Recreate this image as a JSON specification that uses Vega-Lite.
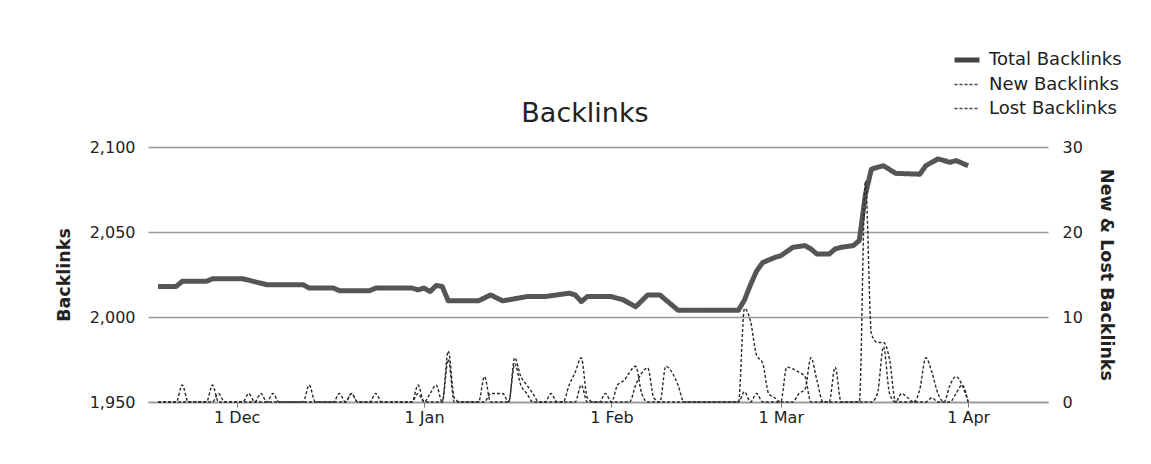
{
  "$schema": "https://vega.github.io/schema/vega-lite/v6.json",
  "width": 900,
  "height": 255,
  "autosize": {"type": "none"},
  "padding": {"left": 148, "top": 147, "right": 103, "bottom": 62},
  "background": "white",
  "config": {
    "view": {"stroke": null},
    "font": "DejaVu Sans",
    "axis": {"labelFont": "DejaVu Sans", "labelFontSize": 16, "labelColor": "#222", "titleFont": "DejaVu Sans", "titleFontSize": 17.5, "titleFontWeight": "bold", "titleColor": "#222"},
    "legend": {"orient": "none", "legendX": 804, "legendY": -102, "symbolType": "stroke", "symbolSize": 625, "labelFont": "DejaVu Sans", "labelFontSize": 18, "labelColor": "#222", "rowPadding": 1, "labelOffset": 7, "symbolStrokeColor": "#444"}
  },
  "title": {"text": "Backlinks", "fontSize": 27, "fontWeight": "normal", "color": "#222", "font": "DejaVu Sans", "offset": 18, "dx": -13, "dy": 101, "anchor": "middle", "frame": "group"},
  "data": {"values": [
    {"d": "2013/11/18", "s": "Total Backlinks", "v": 2018},
    {"d": "2013/11/21", "s": "Total Backlinks", "v": 2018},
    {"d": "2013/11/22", "s": "Total Backlinks", "v": 2021},
    {"d": "2013/11/26", "s": "Total Backlinks", "v": 2021},
    {"d": "2013/11/27", "s": "Total Backlinks", "v": 2022.5},
    {"d": "2013/12/02", "s": "Total Backlinks", "v": 2022.5},
    {"d": "2013/12/06", "s": "Total Backlinks", "v": 2019},
    {"d": "2013/12/12", "s": "Total Backlinks", "v": 2019},
    {"d": "2013/12/13", "s": "Total Backlinks", "v": 2017},
    {"d": "2013/12/17", "s": "Total Backlinks", "v": 2017},
    {"d": "2013/12/18", "s": "Total Backlinks", "v": 2015.5},
    {"d": "2013/12/23", "s": "Total Backlinks", "v": 2015.5},
    {"d": "2013/12/24", "s": "Total Backlinks", "v": 2017},
    {"d": "2013/12/30", "s": "Total Backlinks", "v": 2017},
    {"d": "2013/12/31", "s": "Total Backlinks", "v": 2016},
    {"d": "2014/01/01", "s": "Total Backlinks", "v": 2017},
    {"d": "2014/01/02", "s": "Total Backlinks", "v": 2015},
    {"d": "2014/01/03", "s": "Total Backlinks", "v": 2018.5},
    {"d": "2014/01/04", "s": "Total Backlinks", "v": 2018},
    {"d": "2014/01/05", "s": "Total Backlinks", "v": 2009.5},
    {"d": "2014/01/10", "s": "Total Backlinks", "v": 2009.5},
    {"d": "2014/01/12", "s": "Total Backlinks", "v": 2013},
    {"d": "2014/01/14", "s": "Total Backlinks", "v": 2009.5},
    {"d": "2014/01/18", "s": "Total Backlinks", "v": 2012},
    {"d": "2014/01/21", "s": "Total Backlinks", "v": 2012},
    {"d": "2014/01/25", "s": "Total Backlinks", "v": 2014},
    {"d": "2014/01/26", "s": "Total Backlinks", "v": 2013},
    {"d": "2014/01/27", "s": "Total Backlinks", "v": 2009},
    {"d": "2014/01/28", "s": "Total Backlinks", "v": 2012},
    {"d": "2014/02/01", "s": "Total Backlinks", "v": 2012},
    {"d": "2014/02/03", "s": "Total Backlinks", "v": 2010},
    {"d": "2014/02/05", "s": "Total Backlinks", "v": 2006},
    {"d": "2014/02/07", "s": "Total Backlinks", "v": 2013},
    {"d": "2014/02/09", "s": "Total Backlinks", "v": 2013},
    {"d": "2014/02/12", "s": "Total Backlinks", "v": 2004},
    {"d": "2014/02/22", "s": "Total Backlinks", "v": 2004},
    {"d": "2014/02/23", "s": "Total Backlinks", "v": 2010},
    {"d": "2014/02/24", "s": "Total Backlinks", "v": 2019},
    {"d": "2014/02/25", "s": "Total Backlinks", "v": 2027},
    {"d": "2014/02/26", "s": "Total Backlinks", "v": 2032},
    {"d": "2014/02/28", "s": "Total Backlinks", "v": 2035},
    {"d": "2014/03/01", "s": "Total Backlinks", "v": 2036},
    {"d": "2014/03/03", "s": "Total Backlinks", "v": 2041},
    {"d": "2014/03/05", "s": "Total Backlinks", "v": 2042},
    {"d": "2014/03/06", "s": "Total Backlinks", "v": 2040},
    {"d": "2014/03/07", "s": "Total Backlinks", "v": 2037},
    {"d": "2014/03/09", "s": "Total Backlinks", "v": 2037},
    {"d": "2014/03/10", "s": "Total Backlinks", "v": 2040},
    {"d": "2014/03/11", "s": "Total Backlinks", "v": 2041},
    {"d": "2014/03/13", "s": "Total Backlinks", "v": 2042},
    {"d": "2014/03/14", "s": "Total Backlinks", "v": 2045},
    {"d": "2014/03/15", "s": "Total Backlinks", "v": 2072},
    {"d": "2014/03/16", "s": "Total Backlinks", "v": 2087},
    {"d": "2014/03/18", "s": "Total Backlinks", "v": 2089},
    {"d": "2014/03/20", "s": "Total Backlinks", "v": 2084.5},
    {"d": "2014/03/24", "s": "Total Backlinks", "v": 2084},
    {"d": "2014/03/25", "s": "Total Backlinks", "v": 2089},
    {"d": "2014/03/27", "s": "Total Backlinks", "v": 2093},
    {"d": "2014/03/29", "s": "Total Backlinks", "v": 2091},
    {"d": "2014/03/30", "s": "Total Backlinks", "v": 2092},
    {"d": "2014/04/01", "s": "Total Backlinks", "v": 2089},

    {"d": "2013/11/18", "s": "New Backlinks", "v": 0},
    {"d": "2013/11/21", "s": "New Backlinks", "v": 0},
    {"d": "2013/11/22", "s": "New Backlinks", "v": 2},
    {"d": "2013/11/23", "s": "New Backlinks", "v": 0},
    {"d": "2013/11/26", "s": "New Backlinks", "v": 0},
    {"d": "2013/11/27", "s": "New Backlinks", "v": 2},
    {"d": "2013/11/28", "s": "New Backlinks", "v": 0},
    {"d": "2013/12/02", "s": "New Backlinks", "v": 0},
    {"d": "2013/12/03", "s": "New Backlinks", "v": 1},
    {"d": "2013/12/04", "s": "New Backlinks", "v": 0},
    {"d": "2013/12/05", "s": "New Backlinks", "v": 1},
    {"d": "2013/12/06", "s": "New Backlinks", "v": 0},
    {"d": "2013/12/07", "s": "New Backlinks", "v": 1},
    {"d": "2013/12/08", "s": "New Backlinks", "v": 0},
    {"d": "2013/12/12", "s": "New Backlinks", "v": 0},
    {"d": "2013/12/13", "s": "New Backlinks", "v": 2},
    {"d": "2013/12/14", "s": "New Backlinks", "v": 0},
    {"d": "2013/12/17", "s": "New Backlinks", "v": 0},
    {"d": "2013/12/18", "s": "New Backlinks", "v": 1},
    {"d": "2013/12/19", "s": "New Backlinks", "v": 0},
    {"d": "2013/12/20", "s": "New Backlinks", "v": 1},
    {"d": "2013/12/21", "s": "New Backlinks", "v": 0},
    {"d": "2013/12/23", "s": "New Backlinks", "v": 0},
    {"d": "2013/12/24", "s": "New Backlinks", "v": 1},
    {"d": "2013/12/25", "s": "New Backlinks", "v": 0},
    {"d": "2013/12/30", "s": "New Backlinks", "v": 0},
    {"d": "2013/12/31", "s": "New Backlinks", "v": 2},
    {"d": "2014/01/01", "s": "New Backlinks", "v": 0},
    {"d": "2014/01/02", "s": "New Backlinks", "v": 1},
    {"d": "2014/01/03", "s": "New Backlinks", "v": 2},
    {"d": "2014/01/04", "s": "New Backlinks", "v": 0},
    {"d": "2014/01/05", "s": "New Backlinks", "v": 6},
    {"d": "2014/01/06", "s": "New Backlinks", "v": 0.5},
    {"d": "2014/01/07", "s": "New Backlinks", "v": 0},
    {"d": "2014/01/10", "s": "New Backlinks", "v": 0},
    {"d": "2014/01/11", "s": "New Backlinks", "v": 3},
    {"d": "2014/01/12", "s": "New Backlinks", "v": 0},
    {"d": "2014/01/15", "s": "New Backlinks", "v": 0},
    {"d": "2014/01/16", "s": "New Backlinks", "v": 5.2},
    {"d": "2014/01/17", "s": "New Backlinks", "v": 3},
    {"d": "2014/01/18", "s": "New Backlinks", "v": 2},
    {"d": "2014/01/19", "s": "New Backlinks", "v": 1},
    {"d": "2014/01/20", "s": "New Backlinks", "v": 0},
    {"d": "2014/01/21", "s": "New Backlinks", "v": 0},
    {"d": "2014/01/22", "s": "New Backlinks", "v": 1},
    {"d": "2014/01/23", "s": "New Backlinks", "v": 0},
    {"d": "2014/01/24", "s": "New Backlinks", "v": 0},
    {"d": "2014/01/25", "s": "New Backlinks", "v": 2},
    {"d": "2014/01/26", "s": "New Backlinks", "v": 3.5},
    {"d": "2014/01/27", "s": "New Backlinks", "v": 5.2},
    {"d": "2014/01/28", "s": "New Backlinks", "v": 0.5},
    {"d": "2014/01/29", "s": "New Backlinks", "v": 0},
    {"d": "2014/01/30", "s": "New Backlinks", "v": 0},
    {"d": "2014/01/31", "s": "New Backlinks", "v": 1},
    {"d": "2014/02/01", "s": "New Backlinks", "v": 0},
    {"d": "2014/02/02", "s": "New Backlinks", "v": 2},
    {"d": "2014/02/03", "s": "New Backlinks", "v": 2.5},
    {"d": "2014/02/05", "s": "New Backlinks", "v": 4.2},
    {"d": "2014/02/06", "s": "New Backlinks", "v": 1},
    {"d": "2014/02/07", "s": "New Backlinks", "v": 0},
    {"d": "2014/02/09", "s": "New Backlinks", "v": 0},
    {"d": "2014/02/10", "s": "New Backlinks", "v": 4.2},
    {"d": "2014/02/11", "s": "New Backlinks", "v": 3.5},
    {"d": "2014/02/12", "s": "New Backlinks", "v": 2},
    {"d": "2014/02/13", "s": "New Backlinks", "v": 0},
    {"d": "2014/02/22", "s": "New Backlinks", "v": 0},
    {"d": "2014/02/23", "s": "New Backlinks", "v": 11},
    {"d": "2014/02/24", "s": "New Backlinks", "v": 9.5},
    {"d": "2014/02/25", "s": "New Backlinks", "v": 5.5},
    {"d": "2014/02/26", "s": "New Backlinks", "v": 4.6},
    {"d": "2014/02/27", "s": "New Backlinks", "v": 1},
    {"d": "2014/02/28", "s": "New Backlinks", "v": 0.5},
    {"d": "2014/03/01", "s": "New Backlinks", "v": 0},
    {"d": "2014/03/02", "s": "New Backlinks", "v": 4.1},
    {"d": "2014/03/03", "s": "New Backlinks", "v": 3.9},
    {"d": "2014/03/04", "s": "New Backlinks", "v": 3.5},
    {"d": "2014/03/05", "s": "New Backlinks", "v": 3},
    {"d": "2014/03/06", "s": "New Backlinks", "v": 0},
    {"d": "2014/03/09", "s": "New Backlinks", "v": 0},
    {"d": "2014/03/10", "s": "New Backlinks", "v": 4.1},
    {"d": "2014/03/11", "s": "New Backlinks", "v": 0},
    {"d": "2014/03/14", "s": "New Backlinks", "v": 0},
    {"d": "2014/03/15", "s": "New Backlinks", "v": 26},
    {"d": "2014/03/16", "s": "New Backlinks", "v": 8},
    {"d": "2014/03/17", "s": "New Backlinks", "v": 7},
    {"d": "2014/03/18", "s": "New Backlinks", "v": 7},
    {"d": "2014/03/19", "s": "New Backlinks", "v": 5},
    {"d": "2014/03/20", "s": "New Backlinks", "v": 0},
    {"d": "2014/03/23", "s": "New Backlinks", "v": 0},
    {"d": "2014/03/24", "s": "New Backlinks", "v": 1.5},
    {"d": "2014/03/25", "s": "New Backlinks", "v": 5.2},
    {"d": "2014/03/26", "s": "New Backlinks", "v": 3.5},
    {"d": "2014/03/27", "s": "New Backlinks", "v": 1},
    {"d": "2014/03/28", "s": "New Backlinks", "v": 0},
    {"d": "2014/03/29", "s": "New Backlinks", "v": 2},
    {"d": "2014/03/30", "s": "New Backlinks", "v": 3},
    {"d": "2014/03/31", "s": "New Backlinks", "v": 2},
    {"d": "2014/04/01", "s": "New Backlinks", "v": 0},

    {"d": "2013/11/18", "s": "Lost Backlinks", "v": 0},
    {"d": "2013/11/27", "s": "Lost Backlinks", "v": 0},
    {"d": "2013/11/28", "s": "Lost Backlinks", "v": 1},
    {"d": "2013/11/29", "s": "Lost Backlinks", "v": 0},
    {"d": "2013/12/19", "s": "Lost Backlinks", "v": 0},
    {"d": "2013/12/20", "s": "Lost Backlinks", "v": 1},
    {"d": "2013/12/21", "s": "Lost Backlinks", "v": 0},
    {"d": "2013/12/30", "s": "Lost Backlinks", "v": 0},
    {"d": "2013/12/31", "s": "Lost Backlinks", "v": 1},
    {"d": "2014/01/01", "s": "Lost Backlinks", "v": 0},
    {"d": "2014/01/04", "s": "Lost Backlinks", "v": 0},
    {"d": "2014/01/05", "s": "Lost Backlinks", "v": 5},
    {"d": "2014/01/06", "s": "Lost Backlinks", "v": 0},
    {"d": "2014/01/11", "s": "Lost Backlinks", "v": 0},
    {"d": "2014/01/12", "s": "Lost Backlinks", "v": 1},
    {"d": "2014/01/14", "s": "Lost Backlinks", "v": 1},
    {"d": "2014/01/15", "s": "Lost Backlinks", "v": 0},
    {"d": "2014/01/16", "s": "Lost Backlinks", "v": 4.5},
    {"d": "2014/01/17", "s": "Lost Backlinks", "v": 2},
    {"d": "2014/01/18", "s": "Lost Backlinks", "v": 1},
    {"d": "2014/01/19", "s": "Lost Backlinks", "v": 0},
    {"d": "2014/01/26", "s": "Lost Backlinks", "v": 0},
    {"d": "2014/01/27", "s": "Lost Backlinks", "v": 2},
    {"d": "2014/01/28", "s": "Lost Backlinks", "v": 0},
    {"d": "2014/02/04", "s": "Lost Backlinks", "v": 0},
    {"d": "2014/02/05", "s": "Lost Backlinks", "v": 2},
    {"d": "2014/02/07", "s": "Lost Backlinks", "v": 4},
    {"d": "2014/02/08", "s": "Lost Backlinks", "v": 0.5},
    {"d": "2014/02/09", "s": "Lost Backlinks", "v": 0},
    {"d": "2014/02/22", "s": "Lost Backlinks", "v": 0},
    {"d": "2014/02/23", "s": "Lost Backlinks", "v": 1.2},
    {"d": "2014/02/24", "s": "Lost Backlinks", "v": 0},
    {"d": "2014/02/25", "s": "Lost Backlinks", "v": 1},
    {"d": "2014/02/26", "s": "Lost Backlinks", "v": 0},
    {"d": "2014/03/03", "s": "Lost Backlinks", "v": 0},
    {"d": "2014/03/04", "s": "Lost Backlinks", "v": 1},
    {"d": "2014/03/05", "s": "Lost Backlinks", "v": 1.5},
    {"d": "2014/03/06", "s": "Lost Backlinks", "v": 5.2},
    {"d": "2014/03/07", "s": "Lost Backlinks", "v": 2.5},
    {"d": "2014/03/08", "s": "Lost Backlinks", "v": 0},
    {"d": "2014/03/16", "s": "Lost Backlinks", "v": 0},
    {"d": "2014/03/17", "s": "Lost Backlinks", "v": 1},
    {"d": "2014/03/18", "s": "Lost Backlinks", "v": 6.5},
    {"d": "2014/03/19", "s": "Lost Backlinks", "v": 1},
    {"d": "2014/03/20", "s": "Lost Backlinks", "v": 0},
    {"d": "2014/03/21", "s": "Lost Backlinks", "v": 1},
    {"d": "2014/03/22", "s": "Lost Backlinks", "v": 0.5},
    {"d": "2014/03/23", "s": "Lost Backlinks", "v": 0},
    {"d": "2014/03/25", "s": "Lost Backlinks", "v": 0},
    {"d": "2014/03/26", "s": "Lost Backlinks", "v": 0.5},
    {"d": "2014/03/27", "s": "Lost Backlinks", "v": 0},
    {"d": "2014/03/29", "s": "Lost Backlinks", "v": 0},
    {"d": "2014/03/30", "s": "Lost Backlinks", "v": 1},
    {"d": "2014/03/31", "s": "Lost Backlinks", "v": 2},
    {"d": "2014/04/01", "s": "Lost Backlinks", "v": 0}
  ]},
  "encoding": {
    "x": {
      "field": "d", "type": "temporal",
      "scale": {"domain": [{"year": 2013, "month": 11, "date": 16, "hours": 8}, {"year": 2014, "month": 4, "date": 14, "hours": 5}]},
      "axis": {
        "values": [{"year": 2013, "month": 12, "date": 1}, {"year": 2014, "month": 1, "date": 1}, {"year": 2014, "month": 2, "date": 1}, {"year": 2014, "month": 3, "date": 1}, {"year": 2014, "month": 4, "date": 1}],
        "format": "%-d %b", "title": null, "grid": false, "tickSize": 5, "tickColor": "#777", "domainColor": "#999", "domainWidth": 1.5, "labelPadding": 2, "labelFlush": false
      }
    },
    "strokeDash": {
      "field": "s", "type": "nominal",
      "scale": {"domain": ["Total Backlinks", "New Backlinks", "Lost Backlinks"], "range": [[1, 0], [3, 2], [3, 2]]},
      "legend": {"title": null}
    },
    "strokeWidth": {
      "field": "s", "type": "nominal",
      "scale": {"type": "ordinal", "domain": ["Total Backlinks", "New Backlinks", "Lost Backlinks"], "range": [5, 1.4, 1.4]},
      "legend": {"title": null}
    }
  },
  "layer": [
    {
      "transform": [{"filter": "datum.s === 'Total Backlinks'"}],
      "mark": {"type": "line", "color": "#555", "strokeJoin": "round"},
      "encoding": {
        "y": {
          "field": "v", "type": "quantitative",
          "scale": {"domain": [1950, 2100], "nice": false, "zero": false},
          "axis": {"orient": "left", "values": [1950, 2000, 2050, 2100], "format": ",.0f", "title": "Backlinks", "grid": true, "gridColor": "#999", "gridWidth": 1.5, "domain": false, "ticks": false, "labelPadding": 13, "titlePadding": 16}
        }
      }
    },
    {
      "transform": [{"filter": "datum.s !== 'Total Backlinks'"}],
      "mark": {"type": "line", "color": "#2a2a2a", "interpolate": "monotone"},
      "encoding": {
        "y": {
          "field": "v", "type": "quantitative",
          "scale": {"domain": [0, 30], "nice": false},
          "axis": {"orient": "right", "values": [0, 10, 20, 30], "title": "New & Lost Backlinks", "grid": false, "domain": false, "ticks": false, "labelPadding": 14, "titlePadding": 14}
        }
      }
    }
  ],
  "resolve": {"scale": {"y": "independent"}}
}
